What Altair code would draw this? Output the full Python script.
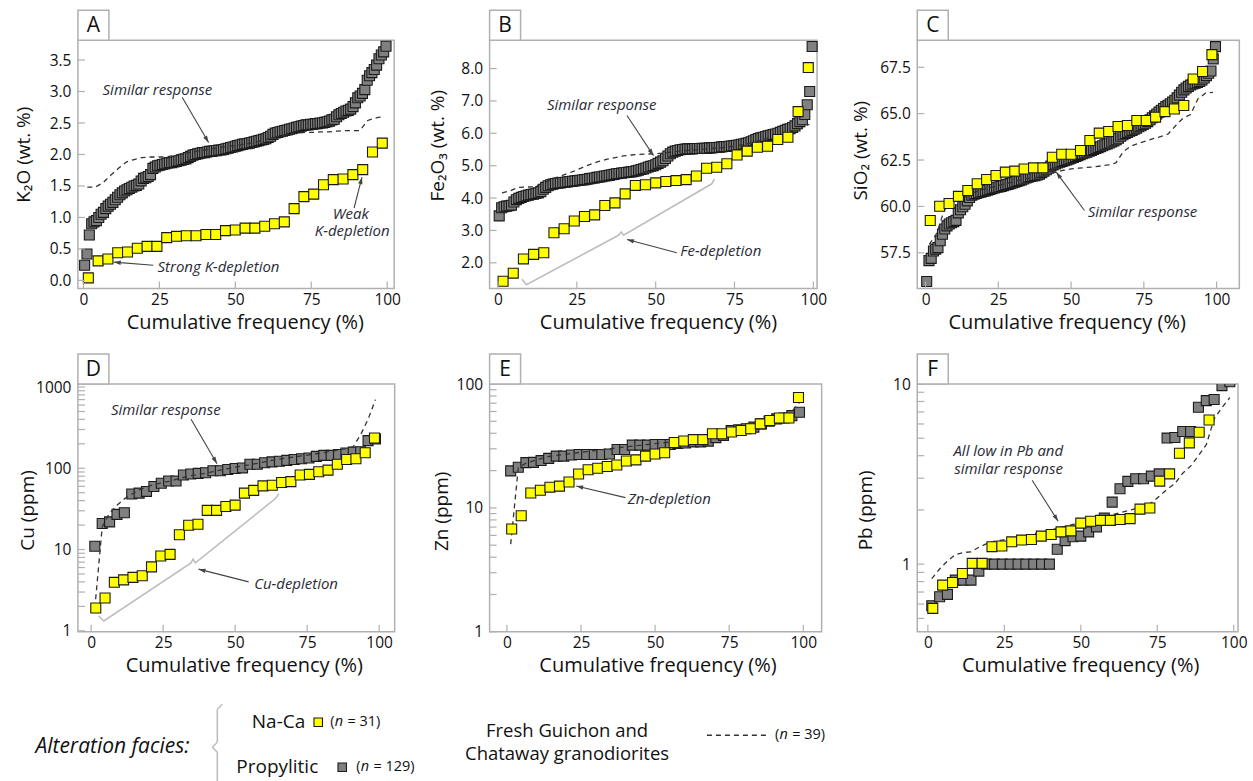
import math
import altair as alt
import pandas as pd

FONT = "Open Sans"
FRAME = "#b0b0b0"
INK = "#111111"
ANN = "#2a2a36"
ARROW = "#444444"
GRAY = "#808080"
YEL = "#ffff00"
BRACE = "#bdbdbd"
HEAD = "M0,0L-0.7,2.2L0.7,2.2Z"
MSIZE = 100

X_TICKS = [0, 25, 50, 75, 100]

# ---------------- data ----------------
K2O_NACA = [0.04, 0.31, 0.34, 0.44, 0.45, 0.51, 0.54, 0.54, 0.68, 0.70, 0.71, 0.71, 0.73, 0.73, 0.79, 0.80,
            0.83, 0.83, 0.86, 0.90, 0.93, 1.14, 1.33, 1.37, 1.52, 1.60, 1.61, 1.68, 1.76, 2.04, 2.18]
K2O_PROP = [0.24, 0.42, 0.72, 0.90, 0.93, 0.95, 1.00, 1.05, 1.08, 1.14, 1.18, 1.21, 1.24, 1.28, 1.32, 1.36,
            1.39, 1.42, 1.44, 1.46, 1.48, 1.50, 1.51, 1.53, 1.58, 1.62, 1.63, 1.65, 1.68, 1.78, 1.80, 1.82,
            1.83, 1.84, 1.85, 1.86, 1.87, 1.87, 1.88, 1.89, 1.90, 1.91, 1.92, 1.93, 1.95, 1.97, 1.99, 2.00,
            2.01, 2.02, 2.03, 2.03, 2.04, 2.05, 2.05, 2.06, 2.06, 2.07, 2.07, 2.08, 2.09, 2.10, 2.11, 2.12,
            2.13, 2.14, 2.15, 2.16, 2.17, 2.17, 2.18, 2.19, 2.20, 2.21, 2.22, 2.23, 2.24, 2.25, 2.27, 2.29,
            2.32, 2.34, 2.35, 2.36, 2.37, 2.38, 2.39, 2.40, 2.41, 2.42, 2.43, 2.44, 2.45, 2.46, 2.47, 2.47,
            2.48, 2.48, 2.49, 2.49, 2.50, 2.50, 2.51, 2.52, 2.53, 2.55, 2.56, 2.60, 2.63, 2.65, 2.67, 2.69,
            2.70, 2.72, 2.76, 2.82, 2.90, 2.93, 2.97, 3.03, 3.18, 3.25, 3.30, 3.35, 3.42, 3.52, 3.58, 3.63,
            3.72]
K2O_FRESH = [1.48, 1.48, 1.55, 1.67, 1.78, 1.88, 1.92, 1.95, 1.96, 1.96, 1.96, 1.98, 2.01, 2.03, 2.05, 2.07,
             2.09, 2.11, 2.13, 2.14, 2.16, 2.18, 2.21, 2.24, 2.27, 2.30, 2.33, 2.34, 2.35, 2.35, 2.36, 2.36,
             2.37, 2.38, 2.38, 2.38, 2.54, 2.58, 2.60]

FE_NACA = [1.43, 1.68, 2.12, 2.26, 2.31, 2.93, 3.05, 3.29, 3.43, 3.48, 3.77, 3.85, 4.13, 4.39, 4.41, 4.47,
           4.51, 4.54, 4.57, 4.68, 4.92, 4.95, 5.06, 5.33, 5.45, 5.57, 5.60, 5.81, 5.88, 6.67, 8.03]
FE_PROP = [3.45, 3.70, 3.73, 3.75, 3.76, 3.78, 3.88, 3.95, 3.99, 4.02, 4.05, 4.07, 4.09, 4.11, 4.12, 4.14,
           4.16, 4.20, 4.27, 4.33, 4.38, 4.41, 4.43, 4.45, 4.46, 4.47, 4.48, 4.49, 4.50, 4.51, 4.52, 4.53,
           4.54, 4.55, 4.56, 4.57, 4.58, 4.60, 4.61, 4.62, 4.64, 4.65, 4.66, 4.68, 4.69, 4.70, 4.72, 4.73,
           4.75, 4.76, 4.77, 4.78, 4.79, 4.80, 4.81, 4.82, 4.84, 4.86, 4.88, 4.90, 4.93, 4.96, 4.98, 5.00,
           5.03, 5.07, 5.11, 5.15, 5.22, 5.30, 5.37, 5.42, 5.45, 5.47, 5.49, 5.50, 5.51, 5.52, 5.52, 5.52,
           5.53, 5.53, 5.53, 5.54, 5.54, 5.54, 5.55, 5.55, 5.56, 5.56, 5.57, 5.58, 5.59, 5.59, 5.60, 5.61,
           5.62, 5.63, 5.64, 5.66, 5.67, 5.69, 5.71, 5.74, 5.77, 5.81, 5.84, 5.86, 5.88, 5.90, 5.92, 5.94,
           5.96, 5.98, 6.00, 6.03, 6.06, 6.09, 6.12, 6.14, 6.18, 6.23, 6.30, 6.36, 6.42, 6.58, 6.88, 7.29,
           8.68]
FE_FRESH = [4.16, 4.22, 4.33, 4.34, 4.35, 4.45, 4.56, 4.66, 4.75, 4.84, 4.95, 5.05, 5.13, 5.20, 5.25, 5.30,
            5.33, 5.35, 5.36, 5.37, 5.39, 5.42, 5.45, 5.47, 5.49, 5.51, 5.53, 5.55, 5.58, 5.61, 5.66, 5.72,
            5.79, 5.86, 5.93, 6.00, 6.07, 6.15, 6.28]

SI_NACA = [59.24, 60.01, 60.16, 60.54, 60.86, 61.22, 61.45, 61.67, 61.85, 61.90, 62.02, 62.08, 62.08, 62.65,
           62.81, 62.81, 63.01, 63.55, 63.95, 64.04, 64.31, 64.36, 64.63, 64.63, 64.81, 65.11, 65.25, 65.44,
           66.87, 67.27, 68.18]
SI_PROP = [55.95, 57.08, 57.20, 57.60, 57.70, 57.78, 58.15, 58.50, 58.78, 58.95, 59.05, 59.12, 59.18, 59.25,
           59.65, 59.82, 59.98, 60.12, 60.30, 60.48, 60.60, 60.66, 60.70, 60.74, 60.77, 60.80, 60.84, 60.88,
           60.92, 60.96, 61.00, 61.03, 61.05, 61.08, 61.12, 61.16, 61.19, 61.23, 61.27, 61.31, 61.35, 61.39,
           61.43, 61.48, 61.53, 61.58, 61.61, 61.64, 61.66, 61.69, 61.74, 61.82, 61.90, 61.98, 62.07, 62.17,
           62.24, 62.29, 62.34, 62.38, 62.43, 62.47, 62.51, 62.55, 62.60, 62.64, 62.69, 62.74, 62.79, 62.84,
           62.88, 62.92, 62.97, 63.02, 63.07, 63.12, 63.17, 63.22, 63.27, 63.32, 63.37, 63.42, 63.47, 63.53,
           63.59, 63.67, 63.78, 63.86, 63.93, 63.99, 64.05, 64.10, 64.16, 64.22, 64.29, 64.35, 64.42, 64.48,
           64.57, 64.67, 64.78, 64.88, 64.98, 65.08, 65.18, 65.28, 65.38, 65.45, 65.53, 65.62, 65.72, 65.85,
           66.00, 66.15, 66.28, 66.38, 66.47, 66.54, 66.60, 66.64, 66.68, 66.73, 66.82, 66.92, 67.05, 67.18,
           67.30, 67.95, 68.61]
SI_FRESH = [57.95, 58.55, 59.80, 60.20, 60.30, 60.55, 60.75, 60.90, 61.00, 61.10, 61.20, 61.30, 61.40, 61.50,
            61.55, 61.60, 61.75, 61.85, 61.95, 62.02, 62.06, 62.10, 62.13, 62.18, 62.24, 62.35, 62.95, 63.25,
            63.40, 63.52, 63.65, 63.76, 63.90, 64.35, 64.75, 64.95, 65.80, 66.10, 66.15]

CU_NACA = [1.91, 2.53, 3.95, 4.23, 4.54, 4.76, 6.12, 8.32, 8.72, 15.2, 19.9, 20.5, 30.3, 30.3, 33.8, 35.2,
           49.5, 53.4, 60.7, 61.9, 66.7, 68.6, 82.5, 84.1, 90.6, 94.9, 112, 128, 131, 155, 236]
CU_PROP = [11.0, 20.9, 21.9, 27.1, 28.4, 48.2, 49.5, 51.9, 59.7, 65.5, 69.8, 69.8, 82.5, 84.9, 86.5, 88.2,
           93.2, 93.2, 96.7, 99.5, 101, 112, 112, 117, 120, 122, 125, 128, 131, 134, 140, 144, 144, 148,
           154, 158, 160, 219, 230]
CU_FRESH = [1.9, 19, 28, 35, 42, 48, 54, 59, 63, 66, 69, 73, 77, 81, 84, 87, 91, 95, 99, 103, 107, 111, 115,
            120, 125, 130, 134, 138, 142, 146, 151, 156, 162, 168, 175, 185, 260, 400, 700]

ZN_NACA = [6.76, 8.64, 13.2, 13.9, 14.7, 15.0, 16.2, 18.8, 20.3, 20.9, 21.6, 22.2, 23.9, 24.4, 26.2, 27.2,
           27.9, 33.7, 34.7, 35.6, 35.6, 39.7, 39.7, 41.0, 42.2, 43.5, 47.7, 50.7, 53.2, 53.2, 77.8]
ZN_PROP = [19.9, 21.3, 23.2, 23.3, 24.1, 25.1, 26.2, 26.2, 26.7, 27.0, 27.0, 27.0, 27.0, 27.2, 29.6, 29.6,
           32.1, 32.1, 32.1, 32.5, 32.5, 32.5, 33.1, 33.4, 34.1, 34.1, 34.6, 36.9, 38.5, 42.2, 42.7, 43.5,
           44.9, 47.7, 50.1, 52.3, 53.2, 55.6, 59.1]
ZN_FRESH = [5.1, 21, 23, 24, 25, 26, 26.5, 27, 27.5, 28, 28.5, 29, 29.5, 30, 30.5, 31, 31.5, 32, 32.5, 33,
            33.5, 34, 34.5, 35, 35.5, 36, 37, 38, 39.5, 41, 42.5, 44, 45.5, 47, 49, 51, 54, 60, 71]

PB_NACA = [0.568, 0.765, 0.791, 0.887, 1.01, 1.01, 1.25, 1.26, 1.33, 1.36, 1.37, 1.43, 1.46, 1.51, 1.53,
           1.69, 1.73, 1.75, 1.75, 1.77, 1.79, 2.02, 2.05, 2.89, 3.17, 4.13, 4.71, 5.40, 6.31, 12.5, 16.0]
PB_PROP = [0.588, 0.659, 0.679, 0.815, 0.815, 0.815, 0.915, 1.0, 1.0, 1.0, 1.0, 1.0, 1.0, 1.0, 1.0, 1.0,
           1.21, 1.35, 1.42, 1.43, 1.51, 1.61, 1.80, 2.21, 2.62, 2.88, 2.98, 2.98, 3.08, 3.17, 5.01, 5.05,
           5.45, 5.45, 7.43, 8.09, 8.20, 9.80, 10.3]
PB_FRESH = [0.83, 0.94, 1.04, 1.13, 1.16, 1.17, 1.24, 1.30, 1.34, 1.36, 1.38, 1.41, 1.44, 1.47, 1.50, 1.54,
            1.58, 1.62, 1.66, 1.70, 1.74, 1.79, 1.84, 1.88, 1.93, 1.98, 2.03, 2.10, 2.19, 2.38, 2.60, 2.80,
            3.20, 3.50, 4.00, 4.60, 6.40, 7.40, 8.40]

DEC = [1, 2, 3, 4, 5, 6, 7, 8, 9]

# legend content (texts, symbols) – positions relative to panel D's plot origin
LEG_TEXT = [  # (x, y, text, align, size, style)
    (-42.5, 363.5, "Alteration facies:", "left", 21, "italic"),
    (227.5, 338.5, "Na-Ca", "right", 19, "normal"),
    (240.5, 383.5, "Propylitic", "right", 19, "normal"),
    (489.5, 347.5, "Fresh Guichon and", "center", 18.5, "normal"),
    (489.5, 370.5, "Chataway granodiorites", "center", 18.5, "normal"),
    (252.5, 338.5, "(", "left", 14.5, "normal"), (257.0, 338.5, "n", "left", 14.5, "italic"),
    (269.8, 338.5, "= 31)", "left", 14.5, "normal"),
    (278.5, 383.5, "(", "left", 14.5, "normal"), (283.0, 383.5, "n", "left", 14.5, "italic"),
    (295.8, 383.5, "= 129)", "left", 14.5, "normal"),
    (697.5, 351.5, "(", "left", 14.5, "normal"), (702.0, 351.5, "n", "left", 14.5, "italic"),
    (714.8, 351.5, "= 39)", "left", 14.5, "normal"),
]
LEG_SYM = [(240.5, 338.5, YEL), (264.5, 383.5, GRAY)]
LEG_BRACE = [(144.5, 320.5), (139.5, 325.5), (139.5, 358.5), (134.5, 363.5), (139.5, 368.5), (139.5, 397.5)]
LEG_DASH = (629.5, 692.5, 351.5)

PANELS = {
    "A": dict(naca=K2O_NACA, prop=K2O_PROP, fresh=K2O_FRESH, W=316.5, H=248.5,
              xdom=[-1.81, 102.3], ydom=[-0.13, 3.814], log=False,
              ylab=[0, 0.5, 1, 1.5, 2, 2.5, 3, 3.5], yfmt=".1f",
              yticks=[0, 0.5, 1, 1.5, 2, 2.5, 3, 3.5], ytitle="K₂O (wt. %)",
              tx=-54, ty=114, xtx=167,
              texts=[(6.3, 3.03, "Similar response", "left"), (88, 1.06, "Weak", "center"),
                     (88.5, 0.78, "K-depletion", "center"), (24.4, 0.22, "Strong K-depletion", "left")],
              arrows=[(32.5, 2.91, 41.2, 2.19), (89.1, 1.15, 91.7, 1.64), (23.0, 0.24, 10.0, 0.29)],
              brace=None, clip=False, legend=False),
    "B": dict(naca=FE_NACA, prop=FE_PROP, fresh=FE_FRESH, W=327.7, H=248.5,
              xdom=[-2.66, 101.17], ydom=[1.204, 8.873], log=False,
              ylab=[2, 3, 4, 5, 6, 7, 8], yfmt=".1f", yticks=[2, 3, 4, 5, 6, 7, 8],
              ytitle="Fe₂O₃ (wt. %)", tx=-52.6, ty=105, xtx=168.5,
              texts=[(15.5, 6.88, "Similar response", "left"), (57.8, 2.38, "Fe-depletion", "left")],
              arrows=[(40.9, 6.55, 49.3, 5.31), (56.7, 2.31, 40.9, 2.72)],
              brace=[(7.6, 1.49), (9.0, 1.32), (38.2, 2.85), (39.1, 2.95), (39.8, 2.85), (67.8, 4.44),
                     (68.6, 4.59)], clip=False, legend=False),
    "C": dict(naca=SI_NACA, prop=SI_PROP, fresh=SI_FRESH, W=322.3, H=248.5,
              xdom=[-2.85, 107.8], ydom=[55.572, 68.954], log=False,
              ylab=[57.5, 60, 62.5, 65, 67.5], yfmt=".1f", yticks=[57.5, 60, 62.5, 65, 67.5],
              ytitle="SiO₂ (wt. %)", tx=-57, ty=110, xtx=149.5,
              texts=[(55.7, 59.69, "Similar response", "left")],
              arrows=[(54.6, 59.78, 44.9, 61.85)], brace=None, clip=False, legend=False),
    "D": dict(naca=CU_NACA, prop=CU_PROP, fresh=CU_FRESH, W=317, H=248,
              xdom=[-4.58, 105.4], ydom=[0.972, 1089], log=True,
              ylab=[1, 10, 100, 1000], yfmt="d",
              yticks=[d * m for m in (1, 10, 100) for d in DEC] + [1000],
              ytitle="Cu (ppm)", tx=-50, ty=126, xtx=166,
              texts=[(6.9, 517, "Similar response", "left"), (56.6, 3.82, "Cu-depletion", "left")],
              arrows=[(34.7, 401, 43.7, 114), (54.7, 4.0, 37.3, 5.74)],
              brace=[(2.6, 1.52), (4.4, 1.32), (34.7, 6.86), (35.4, 7.62), (36.2, 6.86), (64.0, 42.4),
                     (65.2, 48.8)], clip=False, legend=True),
    "E": dict(naca=ZN_NACA, prop=ZN_PROP, fresh=ZN_FRESH, W=332.3, H=248,
              xdom=[-5.83, 106.2], ydom=[1, 100], log=True,
              ylab=[1, 10, 100], yfmt="d", yticks=[d * m for m in (1, 10) for d in DEC] + [100],
              ytitle="Zn (ppm)", tx=-48, ty=127, xtx=168,
              texts=[(40.8, 11.9, "Zn-depletion", "left")],
              arrows=[(40.0, 12.1, 23.4, 15.0)], brace=None, clip=False, legend=False),
    "F": dict(naca=PB_NACA, prop=PB_PROP, fresh=PB_FRESH, W=321, H=248,
              xdom=[-3.46, 101.4], ydom=[0.421, 10], log=True,
              ylab=[1, 10], yfmt="d", yticks=[0.5, 0.6, 0.7, 0.8, 0.9] + DEC + [10],
              ytitle="Pb (ppm)", tx=-52, ty=126, xtx=163,
              texts=[(26.3, 4.22, "All low in Pb and", "center"), (26.4, 3.36, "similar response", "center")],
              arrows=[(34.1, 2.92, 42.6, 1.73)], brace=None, clip=True, legend=False),
}


def pix(x, y, p):
    x0, x1 = p["xdom"]
    y0, y1 = p["ydom"]
    f = math.log10 if p["log"] else (lambda t: t)
    px = (x - x0) / (x1 - x0) * p["W"]
    py = p["H"] - (f(y) - f(y0)) / (f(y1) - f(y0)) * p["H"]
    return px, py


def legend_layers():
    out = []
    one = pd.DataFrame({"k": [0]})
    for (x, y, t, al, fs, st) in LEG_TEXT:
        out.append(alt.Chart(one).mark_text(font=FONT, fontSize=fs, fontStyle=st, color=INK, align=al,
                                            baseline="middle")
                   .encode(x=alt.value(x), y=alt.value(y), text=alt.value(t)))
    for (x, y, c) in LEG_SYM:
        out.append(alt.Chart(one).mark_point(shape="square", filled=True, size=72, fill=c, stroke="#1a1a1a",
                                             strokeWidth=1.1, opacity=1)
                   .encode(x=alt.value(x), y=alt.value(y)))
    for a, b in zip(LEG_BRACE[:-1], LEG_BRACE[1:]):
        out.append(alt.Chart(one).mark_rule(color=BRACE, strokeWidth=1.6)
                   .encode(x=alt.value(a[0]), y=alt.value(a[1]), x2=alt.value(b[0]), y2=alt.value(b[1])))
    out.append(alt.Chart(one).mark_rule(color="#333333", strokeDash=[5, 4], strokeWidth=1.3)
               .encode(x=alt.value(LEG_DASH[0]), x2=alt.value(LEG_DASH[1]), y=alt.value(LEG_DASH[2]),
                       y2=alt.value(LEG_DASH[2])))
    return out


def make_panel(letter, p):
    n1, n2, n3 = len(p["naca"]), len(p["prop"]), len(p["fresh"])
    df = pd.DataFrame({"v": p["naca"] + p["prop"] + p["fresh"],
                       "s": ["naca"] * n1 + ["prop"] * n2 + ["fresh"] * n3})
    W, H = p["W"], p["H"]
    xsc = alt.Scale(domain=p["xdom"], nice=False, zero=False)
    if p["log"]:
        ysc = alt.Scale(type="log", domain=p["ydom"], nice=False)
    else:
        ysc = alt.Scale(domain=p["ydom"], nice=False, zero=False)
    xaxis = alt.Axis(title="Cumulative frequency (%)", values=X_TICKS, format="d", ticks=False, tickSize=0,
                     domain=False, grid=False, labelFont=FONT, labelFontSize=15.5, labelColor=INK,
                     labelPadding=4, labelFlush=False, labelOverlap=False,
                     titleFont=FONT, titleFontSize=20, titleFontWeight="normal", titleColor=INK,
                     titleX=p["xtx"], titleY=33.5, titleBaseline="middle")
    yaxis = alt.Axis(title=p["ytitle"], values=p["ylab"], format=p["yfmt"], ticks=False, tickSize=0,
                     domain=False, grid=False, labelFont=FONT, labelFontSize=15.5, labelColor=INK,
                     labelPadding=7, labelFlush=False, labelOverlap=False,
                     titleFont=FONT, titleFontSize=19, titleFontWeight="normal", titleColor=INK,
                     titleX=p["tx"], titleY=p["ty"], titleBaseline="middle", titleAngle=270)

    def X(f):
        return alt.X(f"{f}:Q", scale=xsc, axis=xaxis)

    def Y(f):
        return alt.Y(f"{f}:Q", scale=ysc, axis=yaxis)

    base = (alt.Chart(df)
            .transform_window(rank="row_number()", sort=[alt.SortField("v", order="ascending")], groupby=["s"])
            .transform_joinaggregate(n="count()", groupby=["s"])
            .transform_calculate(cf="(datum.rank - 0.5) / datum.n * 100"))
    layers = []
    layers.append(base.transform_filter("datum.s == 'prop'").mark_point(
        shape="square", filled=True, size=MSIZE, fill=GRAY, stroke="#1a1a1a", strokeWidth=1.1, opacity=1,
        clip=p["clip"]).encode(x=X("cf"), y=Y("v")))
    layers.append(base.transform_filter("datum.s == 'fresh'").mark_line(
        color="#333333", strokeDash=[5, 4], strokeWidth=1.3, clip=p["clip"]).encode(
        x=X("cf"), y=Y("v"), order="cf:Q"))
    layers.append(base.transform_filter("datum.s == 'naca'").mark_point(
        shape="square", filled=True, size=MSIZE, fill=YEL, stroke="#1a1a1a", strokeWidth=1.1, opacity=1,
        clip=p["clip"]).encode(x=X("cf"), y=Y("v")))
    # inward ticks
    layers.append(alt.Chart(pd.DataFrame({"t": p["yticks"]})).mark_rule(color=FRAME, strokeWidth=1.2)
                  .encode(y=Y("t"), x=alt.value(0), x2=alt.value(7)))
    layers.append(alt.Chart(pd.DataFrame({"t": X_TICKS})).mark_rule(color=FRAME, strokeWidth=1.2)
                  .encode(x=X("t"), y=alt.value(H), y2=alt.value(H - 7)))
    # brace
    if p["brace"]:
        bd = pd.DataFrame({"x": [b[0] for b in p["brace"]], "y": [b[1] for b in p["brace"]],
                           "o": list(range(len(p["brace"])))})
        layers.append(alt.Chart(bd).mark_line(color=BRACE, strokeWidth=1.6)
                      .encode(x=X("x"), y=Y("y"), order="o:Q"))
    # arrows
    for (x1, y1, x2, y2) in p["arrows"]:
        a = pix(x1, y1, p)
        b = pix(x2, y2, p)
        ang = math.degrees(math.atan2(b[0] - a[0], -(b[1] - a[1]))) % 360
        ad = pd.DataFrame({"x": [x1], "y": [y1], "x2": [x2], "y2": [y2]})
        layers.append(alt.Chart(ad).mark_rule(color=ARROW, strokeWidth=1.1)
                      .encode(x=X("x"), y=Y("y"), x2="x2:Q", y2="y2:Q"))
        layers.append(alt.Chart(ad).mark_point(shape=HEAD, size=40, filled=True, fill=ARROW, opacity=1,
                                              strokeWidth=0, angle=ang)
                      .encode(x=X("x2"), y=Y("y2")))
    # annotation texts
    for al in ("left", "center"):
        rows = [t for t in p["texts"] if t[3] == al]
        if rows:
            td = pd.DataFrame({"x": [r[0] for r in rows], "y": [r[1] for r in rows], "t": [r[2] for r in rows]})
            layers.append(alt.Chart(td).mark_text(font=FONT, fontSize=15, fontStyle="italic", color=ANN,
                                                  align=al, baseline="middle")
                          .encode(x=X("x"), y=Y("y"), text="t:N"))
    # letter box
    ld = pd.DataFrame({"k": [letter]})
    layers.append(alt.Chart(ld).mark_rect(fill="white", stroke=FRAME, strokeWidth=1.5)
                  .encode(x=alt.value(0), x2=alt.value(31), y=alt.value(-30), y2=alt.value(0)))
    layers.append(alt.Chart(ld).mark_text(font=FONT, fontSize=21, color=INK, align="center", baseline="middle")
                  .encode(x=alt.value(15.5), y=alt.value(-14.5), text="k:N"))
    if p["legend"]:
        layers.extend(legend_layers())
    return alt.layer(*layers).properties(width=W, height=H)


panels = [make_panel(k, PANELS[k]) for k in "ABCDEF"]
chart = (alt.concat(*panels, columns=3, spacing=95, bounds="flush")
         .properties(padding={"left": 14, "top": 8, "right": 5, "bottom": 0}, background="white")
         .configure(font=FONT)
         .configure_view(stroke=FRAME, strokeWidth=1.5))

chart.save("out.html", embed_options={"renderer": "svg", "actions": False})
